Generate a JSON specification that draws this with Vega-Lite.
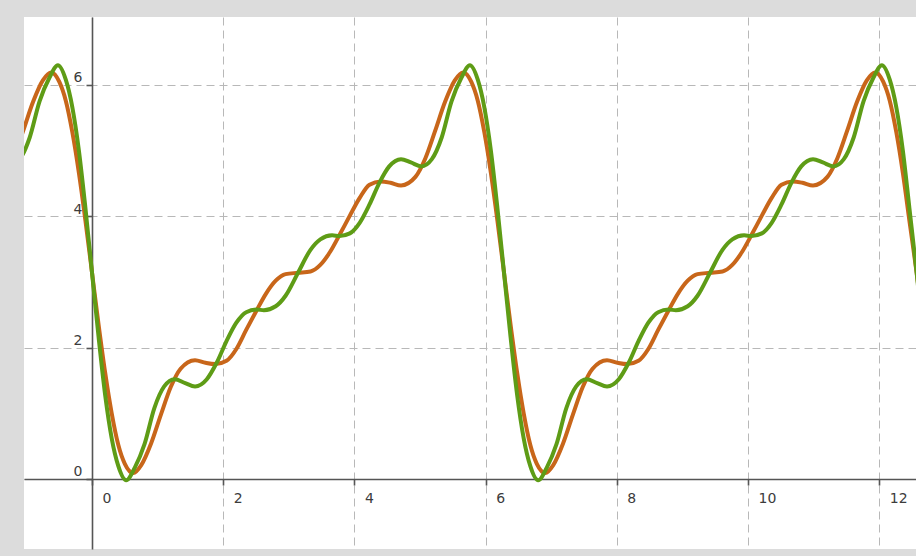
{
  "$schema": "https://vega.github.io/schema/vega-lite/v6.json",
  "width": 892,
  "height": 532,
  "autosize": {"type": "none"},
  "padding": {"left": 24, "top": 17, "right": 0, "bottom": 7},
  "background": "#dcdcdc",
  "config": {
    "view": {"fill": "#ffffff", "stroke": null},
    "axis": {
      "labelFont": "DejaVu Sans",
      "labelFontSize": 14,
      "labelColor": "#3c3c3c",
      "domainColor": "#555555",
      "domainWidth": 1.6,
      "tickColor": "#555555",
      "tickWidth": 1.6,
      "tickSize": 6,
      "gridColor": "#b8b8b8",
      "gridWidth": 1,
      "gridDash": [8, 5],
      "title": null
    }
  },
  "data": {
    "values": [
      {"x": -1.20, "y": 4.88, "terms": 4}, {"x": -1.05, "y": 5.30, "terms": 4}, {"x": -0.90, "y": 5.74, "terms": 4},
      {"x": -0.75, "y": 6.07, "terms": 4}, {"x": -0.62, "y": 6.19, "terms": 4}, {"x": -0.50, "y": 6.05, "terms": 4},
      {"x": -0.40, "y": 5.76, "terms": 4}, {"x": -0.30, "y": 5.28, "terms": 4}, {"x": -0.20, "y": 4.66, "terms": 4},
      {"x": -0.10, "y": 3.93, "terms": 4}, {"x": 0.00, "y": 3.14, "terms": 4}, {"x": 0.10, "y": 2.35, "terms": 4},
      {"x": 0.20, "y": 1.62, "terms": 4}, {"x": 0.30, "y": 1.00, "terms": 4}, {"x": 0.40, "y": 0.52, "terms": 4},
      {"x": 0.50, "y": 0.23, "terms": 4}, {"x": 0.63, "y": 0.09, "terms": 4}, {"x": 0.75, "y": 0.21, "terms": 4},
      {"x": 0.90, "y": 0.54, "terms": 4}, {"x": 1.05, "y": 0.98, "terms": 4}, {"x": 1.20, "y": 1.40, "terms": 4},
      {"x": 1.35, "y": 1.68, "terms": 4}, {"x": 1.57, "y": 1.81, "terms": 4}, {"x": 1.73, "y": 1.77, "terms": 4},
      {"x": 1.88, "y": 1.75, "terms": 4}, {"x": 2.05, "y": 1.80, "terms": 4}, {"x": 2.20, "y": 1.98, "terms": 4},
      {"x": 2.35, "y": 2.27, "terms": 4}, {"x": 2.50, "y": 2.55, "terms": 4}, {"x": 2.65, "y": 2.82, "terms": 4},
      {"x": 2.80, "y": 3.02, "terms": 4}, {"x": 2.95, "y": 3.12, "terms": 4}, {"x": 3.14, "y": 3.14, "terms": 4},
      {"x": 3.33, "y": 3.16, "terms": 4}, {"x": 3.48, "y": 3.26, "terms": 4}, {"x": 3.63, "y": 3.46, "terms": 4},
      {"x": 3.78, "y": 3.73, "terms": 4}, {"x": 3.93, "y": 4.01, "terms": 4}, {"x": 4.08, "y": 4.28, "terms": 4},
      {"x": 4.23, "y": 4.48, "terms": 4}, {"x": 4.40, "y": 4.53, "terms": 4}, {"x": 4.55, "y": 4.51, "terms": 4},
      {"x": 4.71, "y": 4.47, "terms": 4}, {"x": 4.93, "y": 4.60, "terms": 4}, {"x": 5.08, "y": 4.88, "terms": 4},
      {"x": 5.23, "y": 5.30, "terms": 4}, {"x": 5.38, "y": 5.74, "terms": 4}, {"x": 5.53, "y": 6.07, "terms": 4},
      {"x": 5.66, "y": 6.19, "terms": 4}, {"x": 5.78, "y": 6.05, "terms": 4}, {"x": 5.88, "y": 5.76, "terms": 4},
      {"x": 5.98, "y": 5.28, "terms": 4}, {"x": 6.08, "y": 4.66, "terms": 4}, {"x": 6.18, "y": 3.93, "terms": 4},
      {"x": 6.28, "y": 3.14, "terms": 4}, {"x": 6.38, "y": 2.35, "terms": 4}, {"x": 6.48, "y": 1.62, "terms": 4},
      {"x": 6.58, "y": 1.00, "terms": 4}, {"x": 6.68, "y": 0.52, "terms": 4}, {"x": 6.78, "y": 0.23, "terms": 4},
      {"x": 6.91, "y": 0.09, "terms": 4}, {"x": 7.03, "y": 0.21, "terms": 4}, {"x": 7.18, "y": 0.54, "terms": 4},
      {"x": 7.33, "y": 0.98, "terms": 4}, {"x": 7.48, "y": 1.40, "terms": 4}, {"x": 7.63, "y": 1.68, "terms": 4},
      {"x": 7.85, "y": 1.81, "terms": 4}, {"x": 8.01, "y": 1.77, "terms": 4}, {"x": 8.16, "y": 1.75, "terms": 4},
      {"x": 8.33, "y": 1.80, "terms": 4}, {"x": 8.48, "y": 1.98, "terms": 4}, {"x": 8.63, "y": 2.27, "terms": 4},
      {"x": 8.78, "y": 2.55, "terms": 4}, {"x": 8.93, "y": 2.82, "terms": 4}, {"x": 9.08, "y": 3.02, "terms": 4},
      {"x": 9.23, "y": 3.12, "terms": 4}, {"x": 9.42, "y": 3.14, "terms": 4}, {"x": 9.61, "y": 3.16, "terms": 4},
      {"x": 9.76, "y": 3.26, "terms": 4}, {"x": 9.91, "y": 3.46, "terms": 4}, {"x": 10.06, "y": 3.73, "terms": 4},
      {"x": 10.21, "y": 4.01, "terms": 4}, {"x": 10.36, "y": 4.28, "terms": 4}, {"x": 10.51, "y": 4.48, "terms": 4},
      {"x": 10.68, "y": 4.53, "terms": 4}, {"x": 10.83, "y": 4.51, "terms": 4}, {"x": 10.99, "y": 4.47, "terms": 4},
      {"x": 11.21, "y": 4.60, "terms": 4}, {"x": 11.36, "y": 4.88, "terms": 4}, {"x": 11.51, "y": 5.30, "terms": 4},
      {"x": 11.66, "y": 5.74, "terms": 4}, {"x": 11.81, "y": 6.07, "terms": 4}, {"x": 11.94, "y": 6.19, "terms": 4},
      {"x": 12.06, "y": 6.05, "terms": 4}, {"x": 12.16, "y": 5.76, "terms": 4}, {"x": 12.26, "y": 5.28, "terms": 4},
      {"x": 12.36, "y": 4.66, "terms": 4}, {"x": 12.46, "y": 3.93, "terms": 4}, {"x": 12.57, "y": 3.14, "terms": 4},
      {"x": 12.67, "y": 2.35, "terms": 4},

      {"x": -1.26, "y": 4.76, "terms": 5}, {"x": -1.10, "y": 4.87, "terms": 5}, {"x": -0.95, "y": 5.20, "terms": 5},
      {"x": -0.80, "y": 5.75, "terms": 5}, {"x": -0.65, "y": 6.11, "terms": 5}, {"x": -0.52, "y": 6.30, "terms": 5},
      {"x": -0.40, "y": 6.08, "terms": 5}, {"x": -0.30, "y": 5.66, "terms": 5}, {"x": -0.20, "y": 5.00, "terms": 5},
      {"x": -0.10, "y": 4.12, "terms": 5}, {"x": 0.00, "y": 3.14, "terms": 5}, {"x": 0.10, "y": 2.16, "terms": 5},
      {"x": 0.20, "y": 1.28, "terms": 5}, {"x": 0.30, "y": 0.62, "terms": 5}, {"x": 0.40, "y": 0.20, "terms": 5},
      {"x": 0.52, "y": -0.02, "terms": 5}, {"x": 0.65, "y": 0.17, "terms": 5}, {"x": 0.80, "y": 0.53, "terms": 5},
      {"x": 0.95, "y": 1.08, "terms": 5}, {"x": 1.10, "y": 1.41, "terms": 5}, {"x": 1.26, "y": 1.52, "terms": 5},
      {"x": 1.42, "y": 1.46, "terms": 5}, {"x": 1.57, "y": 1.41, "terms": 5}, {"x": 1.75, "y": 1.52, "terms": 5},
      {"x": 1.90, "y": 1.77, "terms": 5}, {"x": 2.05, "y": 2.10, "terms": 5}, {"x": 2.20, "y": 2.38, "terms": 5},
      {"x": 2.35, "y": 2.54, "terms": 5}, {"x": 2.51, "y": 2.58, "terms": 5}, {"x": 2.62, "y": 2.57, "terms": 5},
      {"x": 2.80, "y": 2.63, "terms": 5}, {"x": 2.95, "y": 2.79, "terms": 5}, {"x": 3.14, "y": 3.14, "terms": 5},
      {"x": 3.33, "y": 3.49, "terms": 5}, {"x": 3.48, "y": 3.65, "terms": 5}, {"x": 3.66, "y": 3.71, "terms": 5},
      {"x": 3.77, "y": 3.70, "terms": 5}, {"x": 3.93, "y": 3.74, "terms": 5}, {"x": 4.08, "y": 3.90, "terms": 5},
      {"x": 4.23, "y": 4.18, "terms": 5}, {"x": 4.38, "y": 4.51, "terms": 5}, {"x": 4.53, "y": 4.76, "terms": 5},
      {"x": 4.71, "y": 4.87, "terms": 5}, {"x": 4.86, "y": 4.82, "terms": 5}, {"x": 5.02, "y": 4.76, "terms": 5},
      {"x": 5.18, "y": 4.87, "terms": 5}, {"x": 5.33, "y": 5.20, "terms": 5}, {"x": 5.48, "y": 5.75, "terms": 5},
      {"x": 5.63, "y": 6.11, "terms": 5}, {"x": 5.76, "y": 6.30, "terms": 5}, {"x": 5.88, "y": 6.08, "terms": 5},
      {"x": 5.98, "y": 5.66, "terms": 5}, {"x": 6.08, "y": 5.00, "terms": 5}, {"x": 6.18, "y": 4.12, "terms": 5},
      {"x": 6.28, "y": 3.14, "terms": 5}, {"x": 6.38, "y": 2.16, "terms": 5}, {"x": 6.48, "y": 1.28, "terms": 5},
      {"x": 6.58, "y": 0.62, "terms": 5}, {"x": 6.68, "y": 0.20, "terms": 5}, {"x": 6.80, "y": -0.02, "terms": 5},
      {"x": 6.93, "y": 0.17, "terms": 5}, {"x": 7.08, "y": 0.53, "terms": 5}, {"x": 7.23, "y": 1.08, "terms": 5},
      {"x": 7.38, "y": 1.41, "terms": 5}, {"x": 7.54, "y": 1.52, "terms": 5}, {"x": 7.70, "y": 1.46, "terms": 5},
      {"x": 7.85, "y": 1.41, "terms": 5}, {"x": 8.03, "y": 1.52, "terms": 5}, {"x": 8.18, "y": 1.77, "terms": 5},
      {"x": 8.33, "y": 2.10, "terms": 5}, {"x": 8.48, "y": 2.38, "terms": 5}, {"x": 8.63, "y": 2.54, "terms": 5},
      {"x": 8.79, "y": 2.58, "terms": 5}, {"x": 8.90, "y": 2.57, "terms": 5}, {"x": 9.08, "y": 2.63, "terms": 5},
      {"x": 9.23, "y": 2.79, "terms": 5}, {"x": 9.42, "y": 3.14, "terms": 5}, {"x": 9.61, "y": 3.49, "terms": 5},
      {"x": 9.76, "y": 3.65, "terms": 5}, {"x": 9.94, "y": 3.71, "terms": 5}, {"x": 10.05, "y": 3.70, "terms": 5},
      {"x": 10.21, "y": 3.74, "terms": 5}, {"x": 10.36, "y": 3.90, "terms": 5}, {"x": 10.51, "y": 4.18, "terms": 5},
      {"x": 10.66, "y": 4.51, "terms": 5}, {"x": 10.81, "y": 4.76, "terms": 5}, {"x": 10.99, "y": 4.87, "terms": 5},
      {"x": 11.14, "y": 4.82, "terms": 5}, {"x": 11.30, "y": 4.76, "terms": 5}, {"x": 11.46, "y": 4.87, "terms": 5},
      {"x": 11.61, "y": 5.20, "terms": 5}, {"x": 11.76, "y": 5.75, "terms": 5}, {"x": 11.91, "y": 6.11, "terms": 5},
      {"x": 12.04, "y": 6.30, "terms": 5}, {"x": 12.16, "y": 6.08, "terms": 5}, {"x": 12.26, "y": 5.66, "terms": 5},
      {"x": 12.36, "y": 5.00, "terms": 5}, {"x": 12.46, "y": 4.12, "terms": 5}, {"x": 12.57, "y": 3.14, "terms": 5},
      {"x": 12.67, "y": 2.16, "terms": 5}
    ]
  },
  "mark": {"type": "line", "interpolate": "monotone", "strokeWidth": 4, "clip": true, "strokeCap": "round", "strokeJoin": "round"},
  "encoding": {
    "x": {
      "field": "x",
      "type": "quantitative",
      "scale": {"domain": [-1.037, 12.56], "nice": false, "zero": false},
      "axis": {
        "values": [0, 2, 4, 6, 8, 10, 12],
        "offset": -70,
        "labelAlign": "left",
        "labelBaseline": "top",
        "labelOffset": 10,
        "labelPadding": 6,
        "grid": true,
        "zindex": 0
      }
    },
    "y": {
      "field": "y",
      "type": "quantitative",
      "scale": {"domain": [-1.066, 7.035], "nice": false, "zero": false},
      "axis": {
        "values": [0, 2, 4, 6],
        "offset": -68,
        "labelAlign": "right",
        "labelBaseline": "bottom",
        "labelDy": -4,
        "labelPadding": 4,
        "grid": true,
        "zindex": 0
      }
    },
    "color": {
      "field": "terms",
      "type": "nominal",
      "scale": {"domain": [4, 5], "range": ["#c8661a", "#5e9c16"]},
      "legend": null
    }
  }
}
